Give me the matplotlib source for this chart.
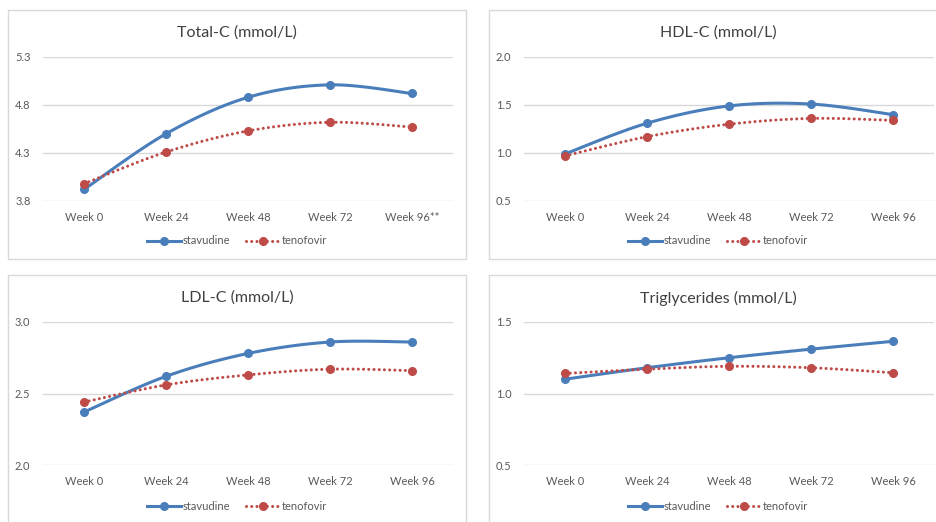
import matplotlib
matplotlib.use('Agg')
import matplotlib.pyplot as plt
import numpy as np
from matplotlib.patches import Rectangle

plt.rcParams['font.family'] = ['Lato', 'DejaVu Sans']

weeks = ['Week 0', 'Week 24', 'Week 48', 'Week 72', 'Week 96']
weeks_total = ['Week 0', 'Week 24', 'Week 48', 'Week 72', 'Week 96**']

total_stav = [3.92, 4.50, 4.88, 5.01, 4.92]
total_teno = [3.98, 4.31, 4.53, 4.62, 4.57]

hdl_stav = [0.99, 1.31, 1.49, 1.51, 1.40]
hdl_teno = [0.97, 1.17, 1.30, 1.36, 1.34]

ldl_stav = [2.37, 2.62, 2.78, 2.86, 2.86]
ldl_teno = [2.44, 2.56, 2.63, 2.67, 2.66]

tg_stav = [1.10, 1.18, 1.25, 1.31, 1.365]
tg_teno = [1.14, 1.17, 1.19, 1.18, 1.145]

BLUE = '#4A7EBB'
RED = '#BE4B48'
GRID = '#D9D9D9'
TXT = '#595959'

W, H = 936, 522
fig = plt.figure(figsize=(W / 100, H / 100), dpi=100)


def smooth(y, n=30):
    """ Excel-like smoothed line: bezier through the points. """
    x = np.arange(len(y), dtype=float)
    y = np.asarray(y, dtype=float)
    pts = np.column_stack([x, y])
    ext = np.vstack([pts[0], pts, pts[-1]])
    out = []
    t = np.linspace(0, 1, n)[:, None]
    for i in range(len(pts) - 1):
        p0, p1, p2, p3 = ext[i], ext[i + 1], ext[i + 2], ext[i + 3]
        c1 = p1 + (p2 - p0) / 6
        c2 = p2 - (p3 - p1) / 6
        seg = ((1 - t) ** 3 * p1 + 3 * (1 - t) ** 2 * t * c1
               + 3 * (1 - t) * t ** 2 * c2 + t ** 3 * p2)
        out.append(seg if i == 0 else seg[1:])
    out = np.vstack(out)
    return out[:, 0], out[:, 1]


def panel(box, title, labels, stav, teno, ylim, yticks, plot_h=144):
    bx, by, bw, bh = box
    fig.patches.append(Rectangle((bx / W, 1 - (by + bh) / H), bw / W, bh / H,
                                 transform=fig.transFigure, fill=False,
                                 edgecolor=GRID, linewidth=1.0))
    ax_l, ax_r = bx + 35, bx + 445
    ax_t = by + 47
    ax_b = ax_t + plot_h
    ax = fig.add_axes([ax_l / W, 1 - ax_b / H, (ax_r - ax_l) / W, (ax_b - ax_t) / H])

    xs, ys = smooth(stav)
    ax.plot(xs, ys, color=BLUE, lw=2.2, solid_capstyle='round', zorder=3)
    ax.plot(range(5), stav, 'o', color=BLUE, ms=5.5, zorder=4)
    xt, yt = smooth(teno)
    ax.plot(xt, yt, color=RED, lw=2.2, dashes=(0.01, 1.7),
            dash_capstyle='round', zorder=3)
    ax.plot(range(5), teno, 'o', color=RED, ms=5.5, zorder=4)

    ax.set_xlim(-0.5, 4.5)
    ax.set_ylim(*ylim)
    ax.set_yticks(yticks)
    ax.set_yticklabels([f'{v:.1f}' for v in yticks])
    ax.set_xticks(range(5))
    ax.set_xticklabels(labels)
    ax.tick_params(length=0, labelsize=8, labelcolor=TXT)
    ax.tick_params(axis='x', pad=8)
    ax.tick_params(axis='y', pad=9)
    ax.grid(axis='y', color=GRID, lw=1.0)
    ax.set_axisbelow(True)
    for s in ax.spines.values():
        s.set_visible(False)
    ax.patch.set_visible(False)

    cx = bx + bw / 2
    fig.text(cx / W, 1 - (by + 23) / H, title, ha='center', va='center',
             fontsize=11.5, color='#404040')

    h1, = ax.plot([], [], color=BLUE, lw=2.2, marker='o', ms=5.5)
    h2, = ax.plot([], [], color=RED, lw=2.2, dashes=(0.01, 1.7),
                  dash_capstyle='round', marker='o', ms=5.5)
    ax.legend([h1, h2], ['stavudine', 'tenofovir'], loc='center', ncol=2,
              bbox_to_anchor=(cx / W, 1 - (by + 231) / H),
              bbox_transform=fig.transFigure, frameon=False, fontsize=8,
              labelcolor=TXT, handlelength=3.0, handletextpad=0.2,
              columnspacing=1.4, borderpad=0)
    return ax


panel((8, 10, 458, 249), 'Total-C (mmol/L)', weeks_total, total_stav, total_teno,
      (3.8, 5.3), [3.8, 4.3, 4.8, 5.3])
panel((489, 10, 458, 249), 'HDL-C (mmol/L)', weeks, hdl_stav, hdl_teno,
      (0.5, 2.0), [0.5, 1.0, 1.5, 2.0])
panel((8, 275, 458, 260), 'LDL-C (mmol/L)', weeks, ldl_stav, ldl_teno,
      (2.0, 3.0), [2.0, 2.5, 3.0], plot_h=143)
panel((489, 275, 458, 260), 'Triglycerides (mmol/L)', weeks, tg_stav, tg_teno,
      (0.5, 1.5), [0.5, 1.0, 1.5], plot_h=143)

fig.savefig('out.png', dpi=100, facecolor='white')
